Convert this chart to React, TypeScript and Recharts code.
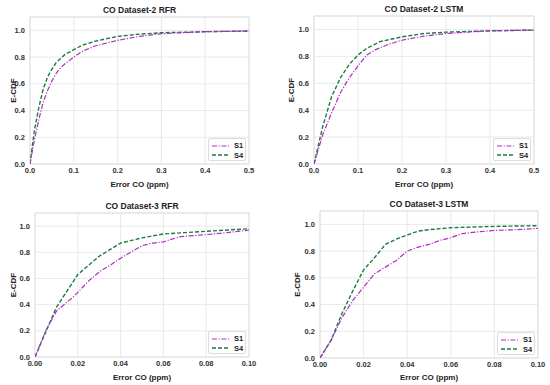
import React from "react";
import {
  LineChart,
  Line,
  XAxis,
  YAxis,
  CartesianGrid,
  ReferenceArea,
} from "recharts";

type Pt = { x: number; y: number };

// Dataset-2 RFR
const D2_RFR_X = [0, 0.01, 0.02, 0.03, 0.04, 0.05, 0.06, 0.07, 0.08, 0.1, 0.12, 0.15, 0.2, 0.25, 0.3, 0.4, 0.5];
const D2_RFR_S1 = [0, 0.18, 0.33, 0.46, 0.55, 0.62, 0.68, 0.72, 0.75, 0.8, 0.845, 0.885, 0.925, 0.955, 0.975, 0.99, 0.995];
const D2_RFR_S4 = [0, 0.25, 0.42, 0.56, 0.65, 0.71, 0.76, 0.79, 0.82, 0.855, 0.89, 0.92, 0.955, 0.972, 0.982, 0.99, 0.995];

// Dataset-2 LSTM
const D2_LSTM_S1_X = [0, 0.02, 0.03, 0.04, 0.06, 0.08, 0.1, 0.12, 0.14, 0.17, 0.2, 0.25, 0.3, 0.4, 0.5];
const D2_LSTM_S1 = [0, 0.22, 0.3, 0.38, 0.53, 0.64, 0.73, 0.81, 0.85, 0.89, 0.92, 0.95, 0.97, 0.99, 0.995];
const D2_LSTM_S4_X = [0, 0.02, 0.04, 0.06, 0.08, 0.1, 0.12, 0.15, 0.2, 0.25, 0.3, 0.4, 0.5];
const D2_LSTM_S4 = [0, 0.28, 0.5, 0.64, 0.74, 0.81, 0.86, 0.91, 0.945, 0.97, 0.98, 0.99, 0.995];

// Dataset-3 RFR
const D3_RFR_S1_X = [0, 0.005, 0.01, 0.015, 0.018, 0.025, 0.03, 0.035, 0.04, 0.05, 0.055, 0.06, 0.068, 0.08, 0.09, 0.1];
const D3_RFR_S1 = [0, 0.2, 0.35, 0.42, 0.46, 0.58, 0.65, 0.7, 0.755, 0.85, 0.87, 0.88, 0.92, 0.935, 0.95, 0.97];
const D3_RFR_S4_X = [0, 0.005, 0.01, 0.02, 0.025, 0.03, 0.04, 0.05, 0.06, 0.07, 0.08, 0.1];
const D3_RFR_S4 = [0, 0.19, 0.38, 0.63, 0.7, 0.77, 0.87, 0.91, 0.94, 0.95, 0.96, 0.98];

// Dataset-3 LSTM
const D3_LSTM_S1_X = [0, 0.005, 0.01, 0.015, 0.02, 0.025, 0.03, 0.035, 0.04, 0.045, 0.05, 0.055, 0.06, 0.065, 0.07, 0.08, 0.09, 0.1];
const D3_LSTM_S1 = [0, 0.13, 0.3, 0.43, 0.53, 0.63, 0.68, 0.73, 0.8, 0.83, 0.85, 0.88, 0.9, 0.93, 0.94, 0.955, 0.96, 0.97];
const D3_LSTM_S4_X = [0, 0.005, 0.01, 0.015, 0.02, 0.025, 0.03, 0.035, 0.04, 0.045, 0.05, 0.06, 0.08, 0.1];
const D3_LSTM_S4 = [0, 0.13, 0.33, 0.5, 0.66, 0.75, 0.85, 0.89, 0.92, 0.95, 0.96, 0.975, 0.985, 0.99];

const Y_TICKS = [0, 0.2, 0.4, 0.6, 0.8, 1.0];
const X_TICKS_D2 = [0, 0.1, 0.2, 0.3, 0.4, 0.5];
const X_TICKS_D3 = [0, 0.02, 0.04, 0.06, 0.08, 0.1];

const zip = (xs: number[], ys: number[]): Pt[] => xs.map((x, i) => ({ x, y: ys[i] }));

const PURPLE = "#b02cc4";
const GREEN = "#1f7a45";
const FONT = "'Liberation Sans', Arial, sans-serif";
const TICK = { fontSize: 7.5, fontWeight: 700, fill: "#333", fontFamily: FONT };

type PanelProps = {
  left: number;
  top: number;
  height: number;
  title: string;
  yw: number;
  mr: number;
  mt: number;
  xh: number;
  labelX: number;
  xTicks: number[];
  digits: number;
  s1: Pt[];
  s4: Pt[];
};

function Panel(p: PanelProps) {
  const xMax = p.xTicks[p.xTicks.length - 1];
  const plotLeft = p.yw;
  const plotRight = 275 - p.mr;
  const plotBottom = p.height - p.xh;
  return (
    <div style={{ position: "absolute", left: p.left, top: p.top, width: 275, height: p.height }}>
      <LineChart
        width={275}
        height={p.height}
        margin={{ top: p.mt, right: p.mr, bottom: 0, left: 0 }}
      >
        <CartesianGrid stroke="#e3e3e3" strokeWidth={0.8} />
        <ReferenceArea
          x1={0}
          x2={xMax}
          y1={0}
          y2={1.1}
          fill="none"
          stroke="#dcdcdc"
          strokeWidth={0.8}
          ifOverflow="visible"
        />
        <XAxis
          type="number"
          dataKey="x"
          domain={[0, xMax]}
          ticks={p.xTicks}
          height={p.xh}
          tickFormatter={(v: number) => v.toFixed(p.digits)}
          tick={TICK}
          axisLine={false}
          tickLine={false}
          tickSize={0}
          tickMargin={4}
          allowDataOverflow
          label={{
            value: "Error CO (ppm)",
            position: "insideBottom",
            offset: 5,
            style: { fontSize: 8, fontWeight: 700, fill: "#222", fontFamily: FONT },
          }}
        />
        <YAxis
          type="number"
          domain={[0, 1.1]}
          ticks={Y_TICKS}
          width={p.yw}
          tickFormatter={(v: number) => v.toFixed(1)}
          tick={TICK}
          axisLine={false}
          tickLine={false}
          tickSize={0}
          tickMargin={5}
          allowDataOverflow
          label={{
            value: "E-CDF",
            angle: -90,
            position: "insideLeft",
            offset: p.labelX,
            style: { textAnchor: "middle", fontSize: 8, fontWeight: 700, fill: "#222", fontFamily: FONT },
          }}
        />
        <Line
          data={p.s4}
          dataKey="y"
          name="S4"
          stroke={GREEN}
          strokeWidth={1.4}
          strokeDasharray="4 2"
          dot={false}
          isAnimationActive={false}
        />
        <Line
          data={p.s1}
          dataKey="y"
          name="S1"
          stroke={PURPLE}
          strokeWidth={1.2}
          strokeDasharray="5 1.6 1.2 1.6"
          dot={false}
          isAnimationActive={false}
        />
      </LineChart>
      <div
        style={{
          position: "absolute",
          left: plotLeft,
          width: plotRight - plotLeft,
          top: p.mt - 12,
          textAlign: "center",
          fontFamily: FONT,
          fontWeight: 700,
          fontSize: 8.5,
          lineHeight: "10px",
          color: "#222",
        }}
      >
        {p.title}
      </div>
      <div
        style={{
          position: "absolute",
          left: plotRight - 41,
          top: plotBottom - 26,
          width: 38,
          height: 23,
          boxSizing: "border-box",
          border: "1px solid #ddd",
          borderRadius: 2,
          background: "#fff",
          fontFamily: FONT,
          fontWeight: 700,
          fontSize: 7.5,
          color: "#222",
          padding: "2px 0 0 3px",
        }}
      >
        {[
          { n: "S1", c: PURPLE, d: "5 1.6 1.2 1.6", w: 1.2 },
          { n: "S4", c: GREEN, d: "4 2", w: 1.4 },
        ].map((it) => (
          <div key={it.n} style={{ display: "flex", alignItems: "center", height: 9.5 }}>
            <svg width={17} height={6} style={{ marginRight: 5 }}>
              <line x1={0} y1={3} x2={17} y2={3} stroke={it.c} strokeWidth={it.w} strokeDasharray={it.d} />
            </svg>
            <span>{it.n}</span>
          </div>
        ))}
      </div>
    </div>
  );
}

export default function App() {
  return (
    <div style={{ position: "absolute", left: 0, top: 0, width: 550, height: 385, background: "#fff" }}>
      <Panel
        left={0}
        top={0}
        height={192}
        title="CO Dataset-2 RFR"
        yw={30}
        mr={26}
        mt={17}
        xh={28}
        labelX={13}
        xTicks={X_TICKS_D2}
        digits={1}
        s1={zip(D2_RFR_X, D2_RFR_S1)}
        s4={zip(D2_RFR_X, D2_RFR_S4)}
      />
      <Panel
        left={275}
        top={0}
        height={192}
        title="CO Dataset-2 LSTM"
        yw={39}
        mr={16}
        mt={16}
        xh={28}
        labelX={16}
        xTicks={X_TICKS_D2}
        digits={1}
        s1={zip(D2_LSTM_S1_X, D2_LSTM_S1)}
        s4={zip(D2_LSTM_S4_X, D2_LSTM_S4)}
      />
      <Panel
        left={0}
        top={192}
        height={193}
        title="CO Dataset-3 RFR"
        yw={35}
        mr={26}
        mt={21}
        xh={28}
        labelX={13}
        xTicks={X_TICKS_D3}
        digits={2}
        s1={zip(D3_RFR_S1_X, D3_RFR_S1)}
        s4={zip(D3_RFR_S4_X, D3_RFR_S4)}
      />
      <Panel
        left={275}
        top={192}
        height={193}
        title="CO Dataset-3 LSTM"
        yw={45}
        mr={12}
        mt={19}
        xh={27}
        labelX={22}
        xTicks={X_TICKS_D3}
        digits={2}
        s1={zip(D3_LSTM_S1_X, D3_LSTM_S1)}
        s4={zip(D3_LSTM_S4_X, D3_LSTM_S4)}
      />
    </div>
  );
}
